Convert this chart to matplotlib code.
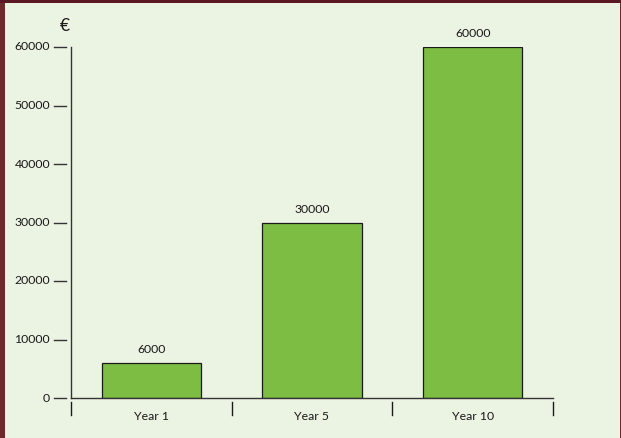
import matplotlib
matplotlib.use("Agg")
import matplotlib.pyplot as plt
from matplotlib.patches import Rectangle
import matplotlib.transforms as mtransforms

categories = ["Year 1", "Year 5", "Year 10"]
values = [6000, 30000, 60000]
yticks = [0, 10000, 20000, 30000, 40000, 50000, 60000]
unit_label = "€"

plt.rcParams['font.family'] = ['Lato', 'DejaVu Sans']

fig = plt.figure(figsize=(6.21, 4.38), dpi=100)
fig.patch.set_facecolor('#6e2a2a')
# top darker strip and light panel
fig.add_artist(Rectangle((0, 435/438), 1, 3/438, transform=fig.transFigure,
                         facecolor='#5a1822', edgecolor='none', zorder=0))
fig.add_artist(Rectangle((5/621, 0), 615/621, 435/438, transform=fig.transFigure,
                         facecolor='#ebf3e3', edgecolor='none', zorder=0))

ax = fig.add_axes([71/621, 1-398/438, 482/621, 351/438])
ax.set_facecolor('none')
x = [i + 0.5 for i in range(len(categories))]
ax.bar(x, values, width=0.62, color='#7dbd43', edgecolor='#1a1a1a', linewidth=0.9, zorder=2)
ax.set_xlim(0, len(categories))
ax.set_ylim(0, 60000)
for s in ['top', 'right']:
    ax.spines[s].set_visible(False)
for s in ['left', 'bottom']:
    ax.spines[s].set_color('#333333')
    ax.spines[s].set_linewidth(1.0)
ax.set_xticks([])
ax.set_yticks([])

fs = 8.8
# y ticks with gap
ytr = mtransforms.blended_transform_factory(ax.transAxes, ax.transData)
for t in yticks:
    ax.plot([-17/482, -5/482], [t, t], transform=ytr, color='#333333', lw=1.0, clip_on=False)
    ax.text(-21/482, t, f"{t}", transform=ytr, ha='right', va='center', fontsize=fs, color='#1a1a1a')

# x separators
xtr = mtransforms.blended_transform_factory(ax.transData, ax.transAxes)
for i in range(len(categories) + 1):
    ax.plot([i, i], [-4/351, -17/351], transform=xtr, color='#1a1a1a', lw=1.0, clip_on=False)
for xi, c in zip(x, categories):
    ax.text(xi, -18.5/351, c, transform=xtr, ha='center', va='center', fontsize=fs, color='#1a1a1a')

for xi, v in zip(x, values):
    ax.annotate(f"{v}", (xi, v), xytext=(0, 9.7), textcoords='offset points',
                ha='center', va='center', fontsize=fs, color='#1a1a1a')

ax.text(-6/482, 1 + 21/351, unit_label, transform=ax.transAxes, ha='center', va='center',
        fontsize=12.5, color='#1a1a1a')

fig.savefig("out.png", dpi=100, facecolor=fig.get_facecolor())
